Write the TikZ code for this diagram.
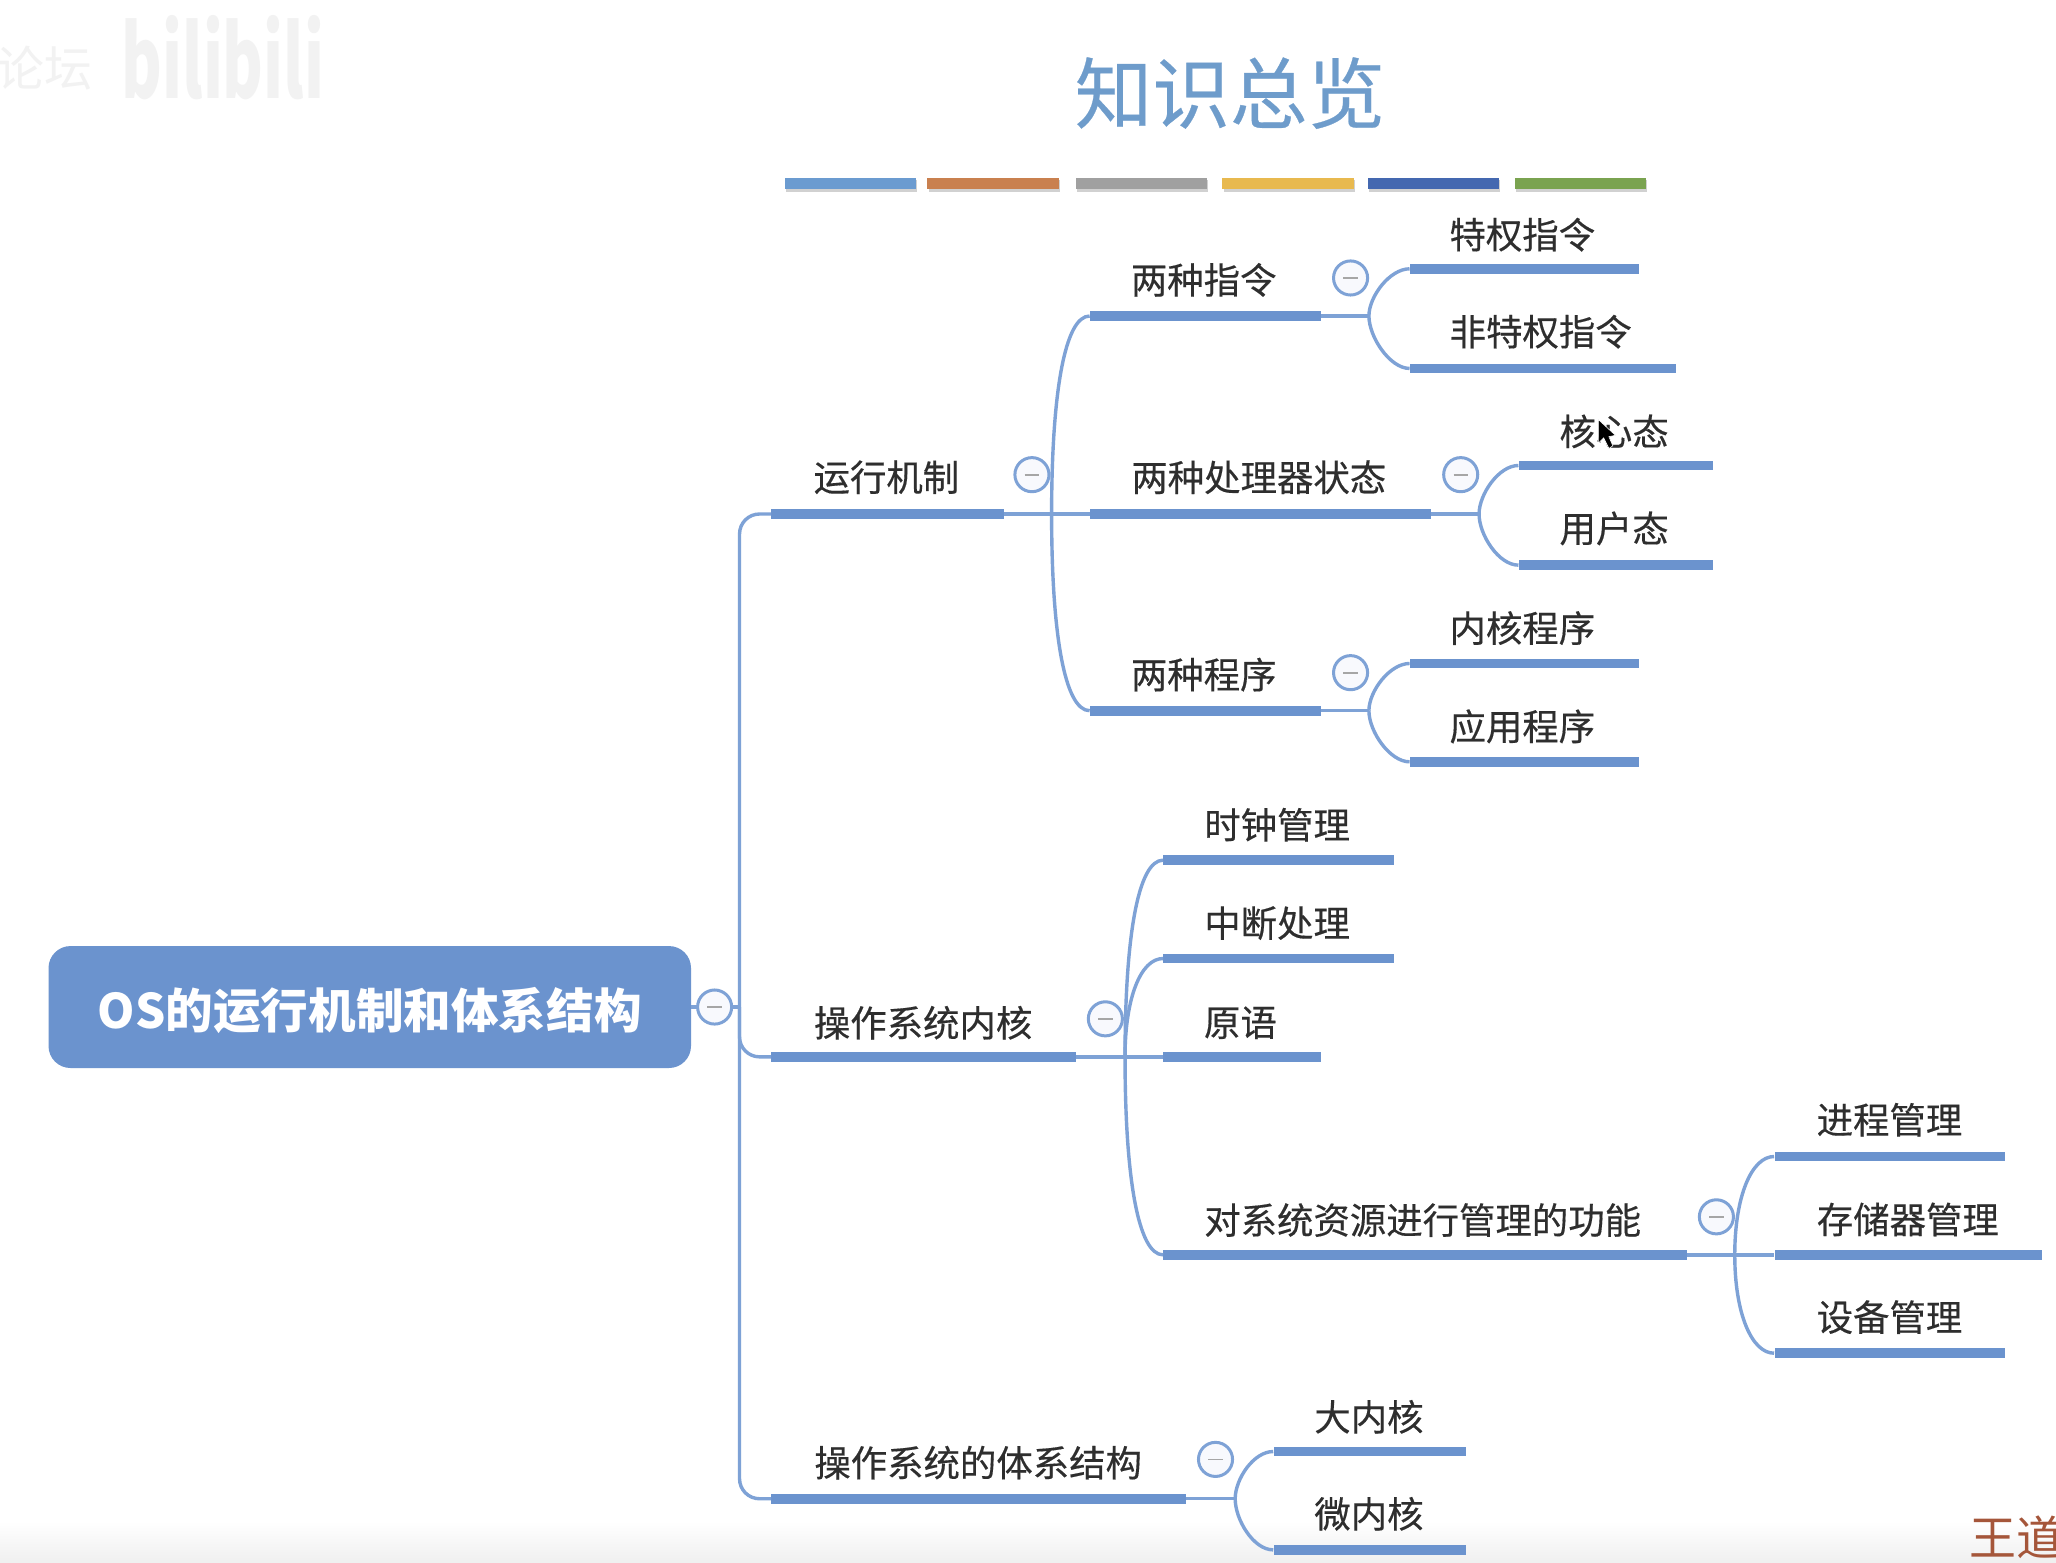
\documentclass[tikz,border=0pt]{standalone}
\usepackage{fontspec}
\setmainfont{Noto Sans CJK SC}
\newfontfamily\lblfont[FakeBold=0.35]{Noto Sans CJK SC}
\definecolor{barblue}{HTML}{6B93CE}
\definecolor{lineblue}{HTML}{7EA2D6}
\definecolor{titleblue}{HTML}{6E9CCB}
\definecolor{inktext}{HTML}{2E2E2E}
\definecolor{wmgray}{HTML}{F2F2F2}
\definecolor{wdbrown}{HTML}{A5563A}
\definecolor{togglefill}{HTML}{F8F9FD}
\tikzset{
  hbar/.style={rectangle,fill=barblue,draw=none,inner sep=0pt,minimum height=7.4*0.6556pt,anchor=west},
  lbl/.style={inner sep=0pt,text=inktext,font=\lblfont\fontsize{18.2pt}{20pt}\selectfont},
  toggle/.style={circle,draw=lineblue,line width=1.5pt,fill=togglefill,minimum size=26*0.6556pt,inner sep=0pt},
  tick/.style={draw=gray!70,line width=0.9pt},
  link/.style={draw=lineblue,line width=1.7pt},
  swatch/.style={rectangle,draw=none,inner sep=0pt,minimum width=100*0.6556pt,minimum height=9*0.6556pt,anchor=west},
}
\newcommand{\togglemark}[1]{\draw[tick] ([xshift=-3.6pt]#1.center) -- ([xshift=3.6pt]#1.center);}
\begin{document}
\begin{tikzpicture}[x=0.6556pt,y=-0.6556pt]
\useasboundingbox (0,0) rectangle (1568,1191.3);
\fill[white] (0,0) rectangle (1568,1191.3);
\shade[top color=white,bottom color=black!6] (0,1160) rectangle (1568,1191.3);
% watermark
\node[inner sep=0pt,text=wmgray,xscale=0.62,font=\fontsize{50pt}{50pt}\selectfont\bfseries] (wm) at (170,44) {bilibili};
\begin{scope}
\clip (0,0) rectangle (1568,1191.3);
\node[inner sep=0pt,anchor=west,text=wmgray,font=\fontsize{24pt}{26pt}\selectfont] (wm2) at (-3,52) {论坛};
\node[inner sep=0pt,anchor=west,text=wdbrown,font=\fontsize{23.5pt}{25pt}\selectfont] (wd) at (1502,1172) {王道};
\end{scope}
% title
\node[inner sep=0pt,text=titleblue,font=\lblfont\fontsize{38.8pt}{42pt}\selectfont] (title) at (938,71) {知识总览};
\node[swatch,fill=black!18] (s0s) at (599,142) {};
\node[swatch,fill=black!18] (s1s) at (708,142) {};
\node[swatch,fill=black!18] (s2s) at (821,142) {};
\node[swatch,fill=black!18] (s3s) at (933,142) {};
\node[swatch,fill=black!18] (s4s) at (1044,142) {};
\node[swatch,fill=black!18] (s5s) at (1156,142) {};
\node[swatch,fill={rgb,255:red,107;green,155;blue,208}] (s0) at (598,140) {};
\node[swatch,fill={rgb,255:red,201;green,128;blue,79}] (s1) at (707,140) {};
\node[swatch,fill={rgb,255:red,160;green,160;blue,160}] (s2) at (820,140) {};
\node[swatch,fill={rgb,255:red,232;green,185;blue,79}] (s3) at (932,140) {};
\node[swatch,fill={rgb,255:red,68;green,104;blue,176}] (s4) at (1043,140) {};
\node[swatch,fill={rgb,255:red,122;green,163;blue,80}] (s5) at (1155,140) {};
% junctions
\coordinate (jroot) at (564,768);
\coordinate (jA) at (802,392);
\coordinate (jA1) at (1044,241);
\coordinate (jA2) at (1128,392);
\coordinate (jA3) at (1044,542);
\coordinate (jB) at (858,806);
\coordinate (jB4) at (1323,957);
\coordinate (jC) at (942,1143);
% bars
\node[hbar,minimum width=177*0.6556pt] (A) at (588,392) {};
\node[hbar,minimum width=232*0.6556pt] (B) at (588,806) {};
\node[hbar,minimum width=316*0.6556pt] (C) at (588,1143) {};
\node[hbar,minimum width=176*0.6556pt] (A1) at (831,241) {};
\node[hbar,minimum width=260*0.6556pt] (A2) at (831,392) {};
\node[hbar,minimum width=176*0.6556pt] (A3) at (831,542) {};
\node[hbar,minimum width=175*0.6556pt] (A1a) at (1075,205) {};
\node[hbar,minimum width=203*0.6556pt] (A1b) at (1075,281) {};
\node[hbar,minimum width=148*0.6556pt] (A2a) at (1158,355) {};
\node[hbar,minimum width=148*0.6556pt] (A2b) at (1158,431) {};
\node[hbar,minimum width=175*0.6556pt] (A3a) at (1075,506) {};
\node[hbar,minimum width=175*0.6556pt] (A3b) at (1075,581) {};
\node[hbar,minimum width=176*0.6556pt] (B1) at (887,656) {};
\node[hbar,minimum width=176*0.6556pt] (B2) at (887,731) {};
\node[hbar,minimum width=120*0.6556pt] (B3) at (887,806) {};
\node[hbar,minimum width=399*0.6556pt] (B4) at (887,957) {};
\node[hbar,minimum width=176*0.6556pt] (B4a) at (1353,882) {};
\node[hbar,minimum width=204*0.6556pt] (B4b) at (1353,957) {};
\node[hbar,minimum width=176*0.6556pt] (B4c) at (1353,1032) {};
\node[hbar,minimum width=147*0.6556pt] (C1) at (971,1107) {};
\node[hbar,minimum width=147*0.6556pt] (C2) at (971,1182) {};
% root
\node[rectangle,rounded corners=11pt,fill=barblue,inner sep=0pt,minimum width=490*0.6556pt,minimum height=93*0.6556pt] (root) at (282,768) {};
\node[inner sep=0pt,text=white,font=\fontsize{23.8pt}{26pt}\selectfont\bfseries] (rootlbl) at (282,771) {OS的运行机制和体系结构};
% connectors
\draw[link] (root.east) -- (jroot);
\draw[link,rounded corners=10pt] (jroot) |- (A.west);
\draw[link,rounded corners=10pt] (jroot) |- (B.west);
\draw[link,rounded corners=10pt] (jroot) |- (C.west);
\draw[link] (A.east) -- (A2.west);
\draw[link] (jA) .. controls +(0,-92) and +(-19,0) .. (A1.west);
\draw[link] (jA) .. controls +(0,92) and +(-19,0) .. (A3.west);
\draw[link] (A1.east) -- (jA1);
\draw[link] (jA1) .. controls +(0,-15) and +(-15,0) .. (A1a.west);
\draw[link] (jA1) .. controls +(0,16) and +(-15,0) .. (A1b.west);
\draw[link] (A2.east) -- (jA2);
\draw[link] (jA2) .. controls +(0,-15) and +(-15,0) .. (A2a.west);
\draw[link] (jA2) .. controls +(0,16) and +(-15,0) .. (A2b.west);
\draw[link] (A3.east) -- (jA3);
\draw[link] (jA3) .. controls +(0,-15) and +(-15,0) .. (A3a.west);
\draw[link] (jA3) .. controls +(0,16) and +(-15,0) .. (A3b.west);
\draw[link] (B.east) -- (B3.west);
\draw[link] (jB) .. controls +(0,-92) and +(-19,0) .. (B1.west);
\draw[link] (jB) .. controls +(0,-45) and +(-17,0) .. (B2.west);
\draw[link] (jB) .. controls +(0,92) and +(-19,0) .. (B4.west);
\draw[link] (B4.east) -- (B4b.west);
\draw[link] (jB4) .. controls +(0,-45) and +(-17,0) .. (B4a.west);
\draw[link] (jB4) .. controls +(0,45) and +(-17,0) .. (B4c.west);
\draw[link] (C.east) -- (jC);
\draw[link] (jC) .. controls +(0,-15) and +(-15,0) .. (C1.west);
\draw[link] (jC) .. controls +(0,16) and +(-15,0) .. (C2.west);
% toggles
\node[toggle] (t0) at (545,768) {}; \togglemark{t0}
\node[toggle] (tA) at (787,362) {}; \togglemark{tA}
\node[toggle] (tA1) at (1030,212) {}; \togglemark{tA1}
\node[toggle] (tA2) at (1114,362) {}; \togglemark{tA2}
\node[toggle] (tA3) at (1030,513) {}; \togglemark{tA3}
\node[toggle] (tB) at (843,777) {}; \togglemark{tB}
\node[toggle] (tB4) at (1309,928) {}; \togglemark{tB4}
\node[toggle] (tC) at (927,1113) {}; \togglemark{tC}
% labels
\node[lbl] (lA) at (676,364) {运行机制};
\node[lbl] (lB) at (704,780) {操作系统内核};
\node[lbl] (lC) at (746,1115.5) {操作系统的体系结构};
\node[lbl] (lA1) at (918,213.5) {两种指令};
\node[lbl] (lA2) at (960,364) {两种处理器状态};
\node[lbl] (lA3) at (918,514.5) {两种程序};
\node[lbl] (lA1a) at (1161,179) {特权指令};
\node[lbl] (lA1b) at (1175,253) {非特权指令};
\node[lbl] (lA2a) at (1231,329) {核心态};
\node[lbl] (lA2b) at (1231,403) {用户态};
\node[lbl] (lA3a) at (1161,479) {内核程序};
\node[lbl] (lA3b) at (1161,554) {应用程序};
\node[lbl] (lB1) at (974,629) {时钟管理};
\node[lbl] (lB2) at (974,704) {中断处理};
\node[lbl] (lB3) at (946,780) {原语};
\node[lbl] (lB4) at (1085,930.5) {对系统资源进行管理的功能};
\node[lbl] (lB4a) at (1441,854) {进程管理};
\node[lbl] (lB4b) at (1455,930) {存储器管理};
\node[lbl] (lB4c) at (1441,1004.5) {设备管理};
\node[lbl] (lC1) at (1044,1080.5) {大内核};
\node[lbl] (lC2) at (1044,1154.5) {微内核};
% mouse cursor
\fill[black,draw=white,line width=0.3pt] (1219,320) -- (1219,338) -- (1223,334) -- (1227,342) -- (1230,340) -- (1227,333) -- (1232,332) -- cycle;
\end{tikzpicture}
\end{document}
